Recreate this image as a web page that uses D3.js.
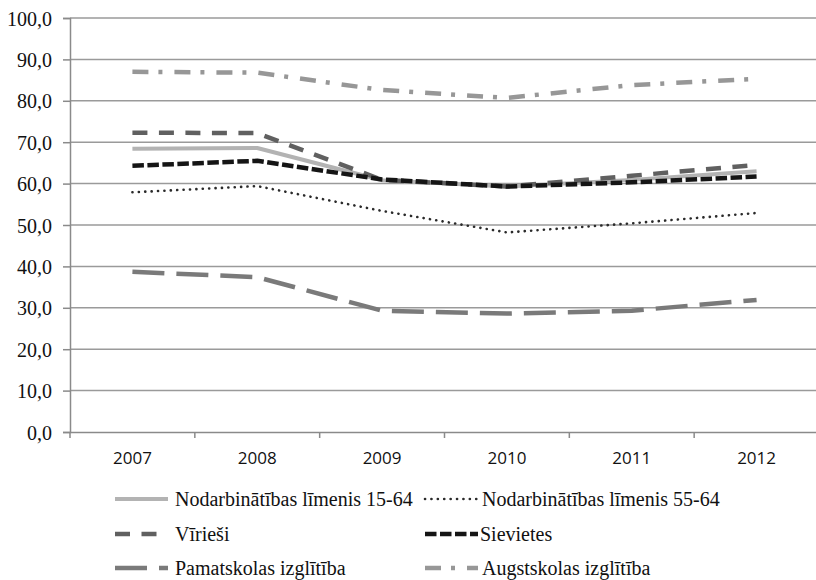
<!DOCTYPE html>
<html><head><meta charset="utf-8">
<script src="https://cdn.jsdelivr.net/npm/d3@7"></script>
</head><body style="margin:0;background:#fff"><svg id="c" width="816" height="580" style="display:block;font-family:'Liberation Serif','Times New Roman',serif"></svg>
<script>
const years = ["2007","2008","2009","2010","2011","2012"];
const yTicks = [0,10,20,30,40,50,60,70,80,90,100];
const seriesNames = ["Nodarbinātības līmenis 15-64","Nodarbinātības līmenis 55-64","Vīrieši","Sievietes","Pamatskolas izglītība","Augstskolas izglītība"];
const emp1564 = [68.4,68.6,60.8,59.3,60.9,63.0];
const emp5564 = [57.9,59.4,53.4,48.2,50.4,52.9];
const men = [72.3,72.2,60.9,59.3,61.9,64.5];
const women = [64.3,65.5,61.0,59.3,60.3,61.7];
const basicEdu = [38.7,37.4,29.3,28.6,29.3,31.9];
const higherEdu = [87.0,86.8,82.6,80.7,83.8,85.3];
const seriesValues = [emp1564,emp5564,men,women,basicEdu,higherEdu];

const SERIF = "'Liberation Serif','Times New Roman',serif";
const SANS = "'Open Sans','Liberation Sans',sans-serif";

const styles = [
  {color:"#b3b3b3", w:4, dash:null, cap:"butt"},
  {color:"#2a2a2a", w:2.6, dash:"0.1,6.3", cap:"round"},
  {color:"#606060", w:4.5, dash:"15,11.5", cap:"butt"},
  {color:"#151515", w:4.5, dash:"11.5,3.5", cap:"butt"},
  {color:"#7a7a7a", w:4.5, dash:"32,12", cap:"butt"},
  {color:"#979797", w:4.5, dash:"16,10,4,12", cap:"butt"}
];

const svg = d3.select("#c");
const L = 70, T = 18, B = 432, R = 819;
const x = d3.scaleBand().domain(years).range([L, R]);
const y = d3.scaleLinear().domain([0,100]).range([B, T]);

svg.append("g").selectAll("line").data(yTicks.filter(v=>v>0)).join("line")
  .attr("x1", L).attr("x2", 816).attr("y1", d=>y(d)).attr("y2", d=>y(d))
  .attr("stroke", "#9a9a9a").attr("stroke-width", 1.5);

const ya = svg.append("g").attr("transform", `translate(${L},0)`)
  .call(d3.axisLeft(y).tickValues(yTicks).tickSize(7).tickFormat(d=>d3.format(".1f")(d).replace(".",",")));
ya.attr("font-family", null).attr("font-size", null);
ya.select(".domain").attr("stroke","#8a8a8a").attr("stroke-width",1.5);
ya.selectAll(".tick line").attr("stroke","#8a8a8a").attr("stroke-width",1.5);
ya.selectAll("text").attr("fill","#111").attr("x",-18).attr("dy",null).attr("y",7)
  .style("font-family",SERIF).style("font-size","20px");

const xa = svg.append("g").attr("transform", `translate(0,${B})`)
  .call(d3.axisBottom(x).tickSize(0));
xa.attr("font-family", null).attr("font-size", null);
xa.select(".domain").attr("stroke","#8a8a8a").attr("stroke-width",1.5);
xa.selectAll("text").attr("fill","#111").attr("dy",null).attr("y",32)
  .style("font-family",SANS).style("font-size","17px");
const bounds = years.map(d=>x(d));
svg.append("g").selectAll("line").data(bounds).join("line")
  .attr("x1",d=>d).attr("x2",d=>d).attr("y1",B).attr("y2",B+6)
  .attr("stroke","#8a8a8a").attr("stroke-width",1.5);

const line = d3.line().x((d,i)=>x(years[i])+x.bandwidth()/2).y(d=>y(d));
seriesValues.forEach((vals,i)=>{
  const s = styles[i];
  svg.append("path").datum(vals).attr("d", line).attr("fill","none")
    .attr("stroke", s.color).attr("stroke-width", s.w)
    .attr("stroke-dasharray", s.dash).attr("stroke-linecap", s.cap).attr("stroke-linejoin","round");
});

const legX = [115, 425];
const legW = [53, 53];
const legTextX = [175, 482];
const legY = [499, 534, 568];
seriesNames.forEach((name,i)=>{
  const col = i%2, row = Math.floor(i/2);
  const s = styles[i];
  svg.append("line").attr("x1", legX[col]).attr("x2", legX[col]+legW[col])
    .attr("y1", legY[row]).attr("y2", legY[row])
    .attr("stroke", s.color).attr("stroke-width", s.w)
    .attr("stroke-dasharray", s.dash).attr("stroke-linecap", s.cap);
  svg.append("text").attr("x", legTextX[col] - (i===3?2:0)).attr("y", legY[row] + 7)
    .attr("fill","#111").style("font-family",SERIF).style("font-size","20px")
    .text(name);
});
</script></body></html>
